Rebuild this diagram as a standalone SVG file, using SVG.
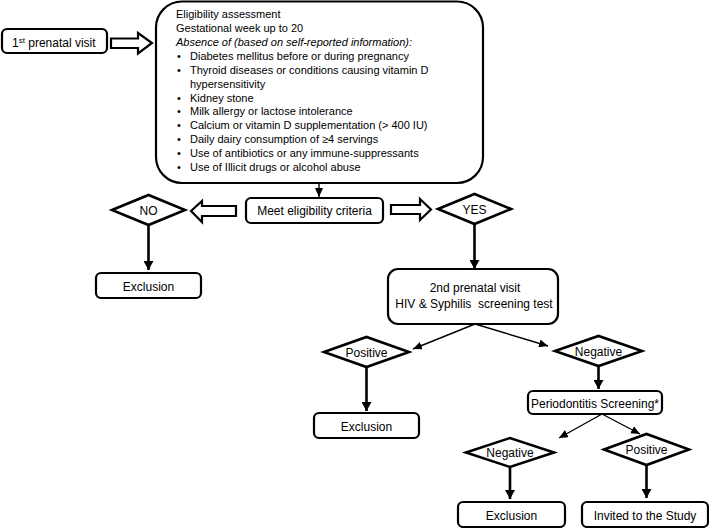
<svg xmlns="http://www.w3.org/2000/svg" width="709" height="528" viewBox="0 0 709 528">
<defs>
<style>
text{font-family:"Liberation Sans",Arial,sans-serif;font-size:12px;fill:#000}
.box{fill:#fff;stroke:#000;stroke-width:2.2}
.dia{fill:#fff;stroke:#000;stroke-width:2.6}
.blk{fill:#fff;stroke:#000;stroke-width:2.2;stroke-linejoin:miter}
.thick{fill:none;stroke:#000;stroke-width:2.6}
.thin{fill:none;stroke:#000;stroke-width:1.4}
.c{text-anchor:middle}
.big{font-size:11px}
</style>
<marker id="ah" markerUnits="userSpaceOnUse" markerWidth="9" markerHeight="10" refX="9" refY="5" orient="auto">
<path d="M0,0 L9,5 L0,10 z" fill="#000"/>
</marker>
<marker id="as" markerUnits="userSpaceOnUse" markerWidth="9" markerHeight="8" refX="9" refY="4" orient="auto">
<path d="M0,0 L9,4 L0,8 z" fill="#000"/>
</marker>
</defs>
<rect width="709" height="528" fill="#fff"/>

<g id="connectors">
<polygon class="blk" points="111,38.5 138,38.5 138,33 152,43 138,53.5 138,48 111,48"/>
<line class="thin" x1="319" y1="183" x2="319" y2="197" marker-end="url(#as)"/>
<polygon class="blk" points="236,206 202,206 202,201 191,211 202,222 202,216 236,216"/>
<polygon class="blk" points="391,205 420,205 420,199 431,209.5 420,220 420,214 391,214"/>
<line class="thick" x1="148.5" y1="225" x2="148.5" y2="270" marker-end="url(#ah)"/>
<line class="thick" x1="474.5" y1="224" x2="474.5" y2="269" marker-end="url(#ah)"/>
<line class="thin" x1="475" y1="324" x2="413" y2="349" marker-end="url(#as)"/>
<line class="thin" x1="475" y1="324" x2="548" y2="346" marker-end="url(#as)"/>
<line class="thick" x1="366.5" y1="367" x2="366.5" y2="411" marker-end="url(#ah)"/>
<line class="thick" x1="598.5" y1="366" x2="598.5" y2="389" marker-end="url(#ah)"/>
<line class="thin" x1="602" y1="414" x2="559" y2="438" marker-end="url(#as)"/>
<line class="thin" x1="602" y1="414" x2="640" y2="434" marker-end="url(#as)"/>
<line class="thick" x1="510" y1="467" x2="510" y2="499" marker-end="url(#ah)"/>
<line class="thick" x1="646.5" y1="465" x2="646.5" y2="498" marker-end="url(#ah)"/>
</g>

<g id="first-visit">
<rect class="box" x="2" y="29" width="105" height="24" rx="5"/>
<text x="12" y="47">1<tspan font-size="8" dy="-4">st</tspan><tspan dy="4"> prenatal visit</tspan></text>
</g>

<g id="eligibility">
<rect class="box" x="156" y="1.5" width="327" height="181.5" rx="26"/>
<text class="big" x="176" y="18">Eligibility assessment</text>
<text class="big" x="176" y="32">Gestational week up to 20</text>
<text class="big" x="176" y="46" font-style="italic">Absence of (based on self-reported information):</text>
<g class="big">
<text class="big" x="177" y="60">•</text><text class="big" x="190" y="60">Diabetes mellitus before or during pregnancy</text>
<text class="big" x="177" y="74">•</text><text class="big" x="190" y="74">Thyroid diseases or conditions causing vitamin D</text>
<text class="big" x="190" y="87.5">hypersensitivity</text>
<text class="big" x="177" y="101.5">•</text><text class="big" x="190" y="101.5">Kidney stone</text>
<text class="big" x="177" y="115">•</text><text class="big" x="190" y="115">Milk allergy or lactose intolerance</text>
<text class="big" x="177" y="129">•</text><text class="big" x="190" y="129">Calcium or vitamin D supplementation (&gt; 400 IU)</text>
<text class="big" x="177" y="143">•</text><text class="big" x="190" y="143">Daily dairy consumption of ≥4 servings</text>
<text class="big" x="177" y="157">•</text><text class="big" x="190" y="157">Use of antibiotics or any immune-suppressants</text>
<text class="big" x="177" y="171">•</text><text class="big" x="190" y="171">Use of Illicit drugs or alcohol abuse</text>
</g>
</g>

<g id="meet-criteria">
<rect class="box" x="246" y="198" width="137" height="25" rx="5"/>
<text class="c" x="314.5" y="215">Meet eligibility criteria</text>
</g>

<g id="no">
<polygon class="dia" points="112,210 148.5,195 185,210 148.5,225"/>
<text class="c" x="148.5" y="215">NO</text>
</g>

<g id="exclusion-1">
<rect class="box" x="96" y="273" width="105" height="25" rx="5"/>
<text class="c" x="148.5" y="291">Exclusion</text>
</g>

<g id="yes">
<polygon class="dia" points="438,209 474.5,194 511,209 474.5,224"/>
<text class="c" x="474.5" y="214">YES</text>
</g>

<g id="second-visit">
<rect class="box" x="388" y="269" width="170" height="55" rx="10"/>
<text class="c" x="475" y="292">2nd prenatal visit</text>
<text class="c" x="474" y="307.5" font-size="11.5">HIV &amp; Syphilis&#160; screening test</text>
</g>

<g id="positive-1">
<polygon class="dia" points="324,352 366.5,337 409,352 366.5,367"/>
<text class="c" x="366.5" y="356.5">Positive</text>
</g>

<g id="exclusion-2">
<rect class="box" x="314" y="413" width="105" height="25" rx="5"/>
<text class="c" x="366.5" y="431">Exclusion</text>
</g>

<g id="negative-1">
<polygon class="dia" points="555,351 598.5,336 642,351 598.5,366"/>
<text class="c" x="598.5" y="355.5">Negative</text>
</g>

<g id="periodontitis">
<rect class="box" x="528" y="391" width="134" height="23" rx="5"/>
<text class="c" x="595" y="407.5">Periodontitis Screening*</text>
</g>

<g id="negative-2">
<polygon class="dia" points="466,452.5 510,438 554,452.5 510,467"/>
<text class="c" x="510" y="457">Negative</text>
</g>

<g id="positive-2">
<polygon class="dia" points="604,449.5 646.5,434 689,449.5 646.5,465"/>
<text class="c" x="646.5" y="454">Positive</text>
</g>

<g id="exclusion-3">
<rect class="box" x="458" y="502" width="107" height="25" rx="5"/>
<text class="c" x="511.5" y="519.5">Exclusion</text>
</g>

<g id="invited">
<rect class="box" x="582" y="502" width="126" height="25" rx="5"/>
<text class="c" x="645" y="519.5">Invited to the Study</text>
</g>
</svg>
